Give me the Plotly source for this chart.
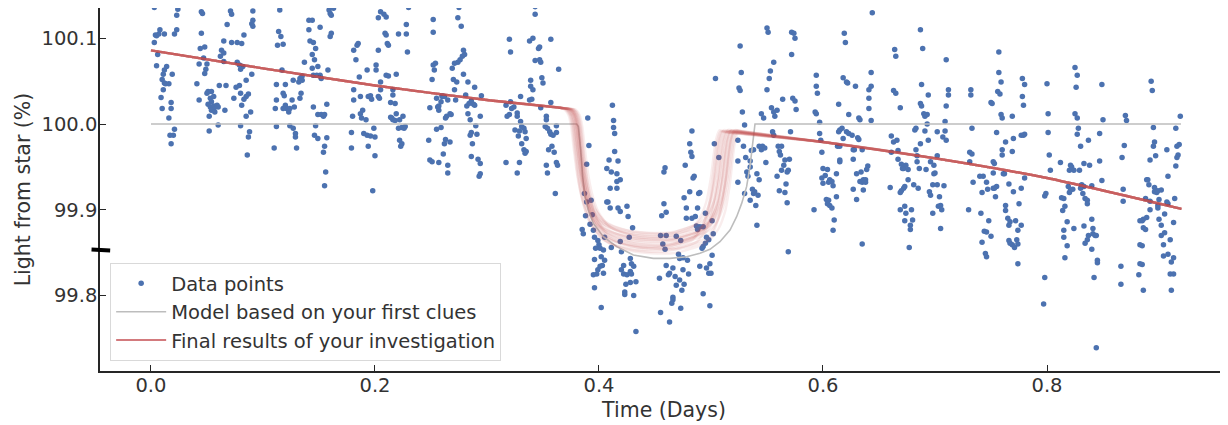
import numpy as np
import plotly.graph_objects as go

time_days = [
    # block 1
    0.003,0.004,0.005,0.007,0.003,0.008,0.012,0.021,0.023,0.023,0.024,0.006,0.005,0.014,0.012,0.011,0.019,0.010,0.012,0.016,0.013,0.011,0.009,0.018,0.010,0.018,0.016,0.021,0.017,0.020,0.018,
    # block 2
    0.045,0.046,0.045,0.048,0.044,0.047,0.050,0.043,0.049,0.048,0.041,0.051,0.054,0.050,0.043,0.053,0.056,0.054,0.051,0.053,0.056,0.059,0.056,0.060,0.054,0.057,0.052,0.060,0.052,
    # block 3
    0.071,0.072,0.068,0.091,0.091,0.090,0.091,0.083,0.065,0.072,0.077,0.081,0.063,0.065,0.062,0.065,0.077,0.079,0.082,0.080,0.090,0.085,0.061,0.067,0.079,0.076,0.080,0.087,0.085,0.083,0.074,0.081,0.089,0.066,0.085,0.080,0.088,0.087,0.086,
    # block 4
    0.115,0.114,0.116,0.113,0.118,0.117,0.112,0.120,0.118,0.119,0.112,0.120,0.121,0.118,0.123,0.111,0.112,0.110,
    # block 5
    0.124,0.124,0.126,0.128,0.127,0.129,0.129,0.130,0.127,0.133,0.135,0.135,0.134,0.133,0.137,0.132,0.141,0.144,0.141,0.142,0.145,0.144,0.147,0.146,0.144,0.145,
    0.149,0.151,0.152,0.148,0.158,0.151,0.160,0.161,0.159,0.163,0.160,0.161,0.145,0.149,0.152,0.154,0.155,0.157,0.147,0.146,0.149,0.157,0.155,0.154,0.156,0.155,
    # block 6
    0.181,0.184,0.185,0.183,0.181,0.186,0.187,0.181,0.189,0.187,0.188,0.180,0.192,0.194,0.196,0.197,0.193,0.179,0.190,0.193,0.196,0.200,0.199,0.194,0.179,0.200,0.198,0.201,0.201,0.203,0.203,
    # block 7
    0.205,0.208,0.210,0.203,0.209,0.210,0.211,0.212,0.205,0.205,0.204,0.210,0.212,0.216,0.219,0.216,0.214,0.218,0.221,0.228,0.228,0.229,0.230,0.219,0.215,0.216,0.214,0.218,0.222,0.225,0.221,0.224,0.227,0.226,0.222,0.224,0.223,
    # block 8
    0.252,0.252,0.251,0.252,0.254,0.253,0.255,0.256,0.257,0.257,0.259,0.260,0.260,0.262,0.263,0.264,0.265,0.267,0.268,0.249,0.248,0.249,0.251,0.255,0.259,0.257,0.261,0.262,0.263,0.267,0.265,0.265,0.269,0.271,0.274,
    0.270,0.273,0.271,0.272,0.276,0.278,0.280,0.279,0.279,0.283,0.289,0.281,0.282,0.284,0.286,0.288,0.289,0.285,0.290,0.283,0.286,0.285,0.291,0.287,0.286,0.292,0.294,0.294,0.293,0.295,0.294,0.275,0.274,0.277,
    # block 9
    0.320,0.321,0.317,0.318,0.320,0.321,0.324,0.322,0.327,0.330,0.327,0.330,0.325,0.329,0.328,0.334,0.335,0.333,0.331,0.333,0.334,0.335,0.317,0.329,0.327,0.331,0.338,0.341,0.346,0.347,0.343,0.347,
    0.348,0.339,0.339,0.341,0.338,0.340,0.349,0.350,0.348,0.343,0.343,0.353,0.353,0.352,0.354,0.356,0.357,0.359,0.362,0.362,0.358,0.360,0.355,0.362,0.363,0.353,0.354,0.361,0.357,0.357,0.364,
    # block 10 (transit)
    0.390,0.391,0.389,0.387,0.393,0.389,0.388,0.394,0.385,0.386,0.392,0.395,0.396,0.399,0.400,0.401,0.397,0.405,0.404,0.402,0.396,0.405,0.403,0.401,0.399,0.398,0.395,0.404,0.396,0.402,
    0.412,0.413,0.413,0.414,0.414,0.409,0.417,0.407,0.411,0.416,0.419,0.416,0.410,0.416,0.407,0.408,0.410,0.417,0.419,0.425,0.426,0.430,0.427,0.419,0.411,0.420,0.428,0.429,0.431,0.428,0.422,
    0.422,0.425,0.429,0.433,0.428,0.424,0.423,0.423,0.431,0.433,0.420,
    # block 11 (transit)
    0.459,0.458,0.458,0.460,0.456,0.455,0.460,0.457,0.459,0.469,0.473,0.454,0.460,0.463,0.462,0.466,0.471,0.472,0.468,0.472,0.469,0.474,0.466,0.466,0.465,0.455,0.463,0.473,0.475,0.479,0.475,
    0.480,0.476,0.483,0.481,0.482,0.483,0.477,0.485,0.484,0.481,0.476,0.478,0.478,0.483,0.486,0.488,0.489,0.487,0.488,0.490,
    # block 12
    0.490,0.495,0.493,0.492,0.493,0.495,0.496,0.498,0.490,0.496,0.498,0.500,0.493,0.499,0.501,0.502,0.501,0.499,0.503,0.507,0.504,
    # block 13
    0.526,0.527,0.525,0.526,0.528,0.524,0.529,0.530,0.524,0.531,0.532,0.535,0.535,0.533,0.524,0.536,0.538,0.537,0.530,0.538,0.539,0.535,0.540,0.541,0.543,0.542,0.541,0.543,0.545,0.546,0.547,0.545,0.548,0.550,0.549,
    0.551,0.550,0.553,0.552,0.556,0.554,0.556,0.559,0.555,0.556,0.557,0.560,0.563,0.561,0.562,0.566,0.565,0.569,0.568,0.563,0.559,0.567,0.561,0.566,0.568,0.570,0.569,0.564,0.573,0.575,0.576,0.572,0.572,0.574,0.575,0.571,
    # block 14
    0.594,0.594,0.595,0.593,0.594,0.597,0.597,0.598,0.599,0.600,0.604,0.599,0.602,0.606,0.605,0.608,0.600,0.609,0.612,0.603,0.605,0.604,0.606,0.608,0.592,0.610,0.609,0.612,0.613,0.615,0.618,0.617,0.615,0.614,0.621,
    0.623,0.619,0.620,0.618,0.621,0.622,0.614,0.615,0.615,0.623,
    # block 15
    0.626,0.627,0.627,0.628,0.629,0.630,0.632,0.633,0.631,0.632,0.635,0.634,0.633,0.635,0.636,0.638,0.638,0.636,0.639,0.640,0.627,0.630,0.635,0.641,0.641,0.641,0.643,0.643,0.643,0.644,
    # block 16
    0.664,0.665,0.663,0.665,0.669,0.661,0.663,0.666,0.661,0.667,0.667,0.670,0.672,0.674,0.676,0.671,0.676,0.673,0.672,0.670,0.669,0.660,0.669,0.673,0.674,0.679,0.673,0.680,0.678,0.678,0.677,0.681,0.685,0.683,0.684,0.684,0.686,0.687,0.683,
    0.682,0.688,0.687,0.689,0.687,0.688,0.690,0.691,0.693,0.693,0.691,0.694,0.694,0.692,0.696,0.699,0.699,0.700,0.698,0.695,0.696,0.702,0.704,0.703,0.705,0.706,0.698,0.705,0.702,0.708,0.702,0.707,0.709,0.710,0.709,0.710,0.712,0.712,0.710,
    # block 17
    0.730,0.732,0.732,0.733,0.731,0.733,0.731,0.734,0.740,0.743,0.746,0.742,0.747,0.741,0.748,0.746,0.744,0.742,0.745,0.746,0.750,0.750,0.752,0.753,0.752,0.752,0.755,0.753,0.754,0.755,0.751,0.757,0.757,0.759,0.756,0.758,0.759,
    0.760,0.760,0.760,0.761,0.762,0.763,0.763,0.763,0.765,0.766,0.767,0.766,0.767,0.769,0.769,0.769,0.766,0.770,0.770,0.772,0.774,0.773,0.771,0.774,0.775,0.777,0.774,0.777,0.777,0.779,0.780,0.778,0.778,0.779,0.780,0.780,
    # block 18
    0.800,0.801,0.801,0.802,0.803,0.799,0.798,0.812,0.813,0.815,0.814,0.816,0.818,0.815,0.815,0.818,0.816,0.798,0.797,0.819,0.820,0.821,0.822,0.820,0.821,0.823,0.824,0.825,0.827,0.826,0.825,0.827,0.828,0.827,
    0.829,0.830,0.831,0.833,0.830,0.832,0.833,0.834,0.836,0.836,0.824,0.833,0.836,0.834,0.837,0.838,0.837,0.840,0.840,0.841,0.841,0.843,0.844,0.840,0.845,0.845,0.842,0.844,0.847,0.847,0.849,0.850,0.849,
    # block 19
    0.867,0.869,0.868,0.868,0.866,0.866,0.870,0.871,
    # block 20
    0.893,0.894,0.895,0.896,0.895,0.897,0.892,0.889,0.890,0.891,0.896,0.896,0.898,0.899,0.902,0.888,0.892,0.900,0.899,0.899,0.892,0.907,0.908,0.905,0.900,0.902,0.889,0.886,0.885,0.883,
    0.886,0.888,0.902,0.905,0.910,0.904,0.883,0.885,0.904,0.908,0.913,0.911,0.883,0.885,0.882,0.910,0.913,0.886,0.911,0.907,0.908,0.919,0.915,0.916,0.918,0.917,0.916,0.915,0.914,0.913,
]

light_pct = [
    # block 1
    100.136,100.104,100.103,100.105,100.095,100.110,100.105,100.105,100.110,100.127,100.134,100.081,100.068,100.067,100.063,100.058,100.058,100.052,100.048,100.047,100.047,100.040,100.031,100.025,100.018,100.018,100.007,99.994,99.987,99.987,99.977,
    # block 2
    100.131,100.129,100.106,100.090,100.088,100.077,100.070,100.070,100.064,100.059,100.047,100.038,100.038,100.036,100.028,100.030,100.032,100.026,100.023,100.020,100.021,100.022,100.017,100.020,100.016,100.014,100.009,99.999,99.992,
    # block 3
    100.132,100.128,100.116,100.132,100.121,100.117,100.114,100.104,100.097,100.095,100.095,100.094,100.086,100.083,100.079,100.073,100.072,100.069,100.067,100.064,100.058,100.051,100.045,100.045,100.045,100.043,100.036,100.035,100.032,100.029,100.030,100.022,100.014,100.016,100.009,99.998,99.991,99.985,99.964,
    # block 4
    100.133,100.108,100.102,100.092,100.093,100.063,100.046,100.046,100.036,100.033,100.028,100.022,100.018,100.018,100.014,100.018,99.997,99.972,
    # block 5
    99.998,100.018,100.028,100.020,99.995,99.989,99.985,99.972,100.051,100.053,100.056,100.051,100.036,100.030,100.072,100.049,100.121,100.121,100.110,100.097,100.095,100.081,100.088,100.075,100.065,100.057,
    100.067,100.057,100.053,100.057,100.063,100.113,100.129,100.127,100.133,100.135,100.102,100.106,100.020,100.011,100.011,100.009,100.011,100.023,99.998,99.987,99.983,99.984,99.974,99.967,99.944,99.928,
    # block 6
    100.086,100.092,100.094,100.075,100.040,100.055,100.032,100.028,100.016,100.012,100.007,100.009,100.005,100.032,100.033,100.029,100.063,99.990,99.989,99.987,99.986,99.985,99.995,99.974,99.972,99.963,99.922,100.069,100.063,100.032,100.086,
    # block 7
    100.131,100.128,100.125,100.124,100.106,100.104,100.094,100.092,100.049,100.040,100.030,100.057,100.056,100.040,100.058,100.034,100.025,100.024,100.105,100.116,100.105,100.084,100.136,100.012,100.007,100.005,100.008,100.004,100.005,100.009,99.995,99.996,99.997,99.995,99.981,99.977,99.974,
    # block 8
    100.122,100.107,100.052,100.069,100.071,100.063,100.030,100.020,100.016,100.021,100.026,100.032,100.033,100.032,100.007,100.009,100.028,100.012,100.011,100.019,99.981,99.958,99.956,99.994,99.996,99.955,99.965,99.977,99.982,99.979,99.952,99.943,100.065,100.071,100.072,
    100.052,100.049,100.040,100.028,100.075,100.079,100.081,100.086,100.058,100.049,100.043,100.034,100.021,100.024,100.027,100.023,100.022,100.005,99.998,100.012,99.990,99.987,99.988,99.977,99.962,99.959,99.954,99.942,99.939,100.033,100.009,100.136,100.124,100.114,
    # block 9
    100.099,100.084,100.022,100.009,100.011,100.026,100.020,100.018,100.013,100.032,100.009,100.003,99.993,99.992,99.986,99.991,99.983,99.995,99.977,99.970,99.966,99.968,99.955,99.955,99.943,99.997,100.097,100.100,100.088,100.090,100.074,100.075,
    100.072,100.051,100.044,100.040,100.028,100.029,100.054,100.048,100.019,100.137,100.128,100.009,100.005,99.997,99.995,99.991,99.988,99.987,99.998,99.990,99.974,99.967,99.970,99.955,99.952,99.952,99.943,99.919,100.025,100.099,100.064,
    # block 10 (transit)
    100.007,99.975,99.953,99.919,99.911,99.909,99.893,99.894,99.877,99.872,99.883,99.876,99.868,99.864,99.859,99.855,99.855,99.868,99.853,99.845,99.842,99.841,99.835,99.834,99.830,99.825,99.824,99.826,99.809,99.786,
    100.022,100.004,99.996,99.989,99.968,99.958,99.957,99.948,99.944,99.942,99.935,99.933,99.925,99.925,99.909,99.909,99.902,99.902,99.898,99.904,99.892,99.879,99.868,99.863,99.856,99.851,99.843,99.837,99.834,99.828,99.835,
    99.825,99.824,99.825,99.816,99.815,99.813,99.804,99.801,99.800,99.758,99.830,
    # block 11 (transit)
    99.949,99.944,99.907,99.897,99.893,99.870,99.870,99.860,99.854,99.869,99.864,99.820,99.835,99.826,99.824,99.832,99.848,99.843,99.822,99.818,99.812,99.806,99.798,99.795,99.791,99.780,99.769,99.785,99.844,99.841,99.830,
    99.825,99.813,99.992,99.977,99.967,99.962,99.952,99.939,99.937,99.921,99.914,99.902,99.890,99.890,99.892,99.902,99.919,99.881,99.877,99.880,
    # block 12
    99.920,99.896,99.880,99.855,99.857,99.861,99.868,99.865,99.834,99.832,99.826,99.826,99.802,99.788,99.887,99.872,99.847,99.837,99.977,99.961,100.053,
    # block 13
    100.091,100.060,100.042,100.039,100.014,99.981,99.974,99.999,99.957,99.961,99.944,99.957,99.950,99.939,99.932,99.969,99.970,99.924,99.919,99.919,99.921,99.911,99.905,99.942,99.935,99.917,99.882,99.974,99.970,99.974,100.007,100.012,99.972,100.040,99.955,
    100.107,100.112,100.062,100.053,100.072,100.019,100.014,100.016,99.991,99.987,100.009,99.974,99.974,99.968,99.964,99.958,99.952,99.946,99.944,99.946,99.939,99.930,99.922,99.920,99.908,99.959,99.851,100.029,100.030,100.027,100.017,100.081,100.107,100.106,100.100,99.991,
    # block 14
    100.057,100.044,100.036,100.014,100.012,100.002,99.989,99.981,99.967,99.948,99.947,99.937,99.940,99.935,99.932,99.933,99.931,99.928,99.915,99.912,99.911,99.907,99.905,99.902,99.900,99.888,99.876,99.942,99.974,99.974,99.983,99.995,99.993,99.991,99.991,
    99.989,100.106,100.095,100.054,100.049,100.048,100.023,99.958,99.956,100.011,
    # block 15
    99.987,99.970,99.959,99.970,100.044,99.942,100.007,100.005,99.984,99.982,99.970,99.944,99.933,99.932,99.935,99.935,99.932,99.923,99.947,99.951,99.924,99.912,99.860,100.018,100.030,100.040,100.044,100.060,100.004,100.130,
    # block 16
    100.087,100.079,100.039,100.036,100.019,99.986,99.979,99.981,99.967,99.969,99.959,99.953,99.948,99.952,99.947,99.948,99.935,99.927,99.925,99.922,99.920,99.926,99.900,99.904,99.896,99.900,99.887,99.888,99.882,99.877,99.856,99.929,99.925,99.970,99.963,99.956,99.948,99.977,99.995,
    99.993,100.046,100.110,100.088,100.024,100.021,100.012,100.009,100.011,100.000,99.992,99.981,100.034,99.947,99.956,99.952,99.942,99.943,99.929,99.921,99.917,99.963,99.915,99.904,99.905,99.900,99.896,99.878,99.929,99.928,99.991,99.985,99.992,99.981,100.003,100.021,100.040,100.034,100.075,
    # block 17
    99.900,100.040,100.034,99.995,99.967,99.965,99.956,99.932,99.939,99.939,99.932,99.920,99.924,99.896,99.887,99.874,99.875,99.862,99.849,99.845,100.025,99.869,99.943,99.954,99.956,99.925,99.927,99.925,99.915,99.990,100.024,100.084,100.060,100.049,100.038,100.035,100.011,
    100.007,99.970,99.964,99.942,99.942,99.979,99.905,99.899,99.890,99.882,99.886,99.864,99.861,99.859,100.009,99.968,99.930,99.921,99.983,99.887,99.876,99.865,99.856,99.860,99.907,99.882,99.837,99.925,99.987,99.987,99.988,100.032,100.053,100.022,100.046,99.937,
    # block 18
    100.047,100.012,99.990,99.964,99.946,99.919,99.916,99.955,99.914,99.913,99.899,99.904,99.886,99.876,99.868,99.858,99.844,99.821,99.790,99.927,99.946,99.952,99.950,99.920,99.923,99.924,99.946,100.066,100.057,100.043,100.012,100.007,99.995,99.988,
    99.946,99.974,99.929,99.954,99.925,99.919,99.927,99.913,99.911,99.907,99.878,99.881,99.865,99.861,99.870,99.952,99.981,99.928,99.889,99.878,99.872,99.870,99.870,99.854,99.841,99.838,99.821,99.739,99.957,99.989,100.046,100.005,99.934,
    # block 19
    99.961,99.975,99.924,99.910,99.834,99.813,100.010,100.004,
    # block 20
    100.050,100.039,99.996,99.979,99.974,99.963,99.958,99.935,99.935,99.929,99.926,99.921,99.920,99.922,99.923,99.913,99.910,99.912,99.905,99.902,99.900,99.909,99.907,99.895,99.889,99.882,99.891,99.889,99.887,99.887,
    99.879,99.877,99.870,99.873,99.865,99.859,99.859,99.858,99.846,99.848,99.844,99.839,99.837,99.836,99.824,99.825,99.825,99.806,99.806,99.970,99.939,100.009,99.995,99.974,99.976,99.964,99.961,99.951,99.913,99.885,
]

# ---------------- model based on first clues (grey) ----------------
first_model_t = [0.0, 0.3801, 0.3816, 0.3837, 0.3854, 0.3875, 0.3905, 0.3949, 0.4039, 0.4158, 0.4307, 0.4485,
                 0.4634, 0.4783, 0.4902, 0.4991, 0.5080, 0.5170, 0.5229, 0.5274, 0.5318, 0.5348, 0.5369,
                 0.5384, 0.5393, 0.9196]
first_model_light = [100.0, 100.0, 99.997, 99.970, 99.9385, 99.915, 99.8997, 99.8841, 99.8686, 99.8569, 99.8471,
                     99.8432, 99.8432, 99.8452, 99.8491, 99.8538, 99.8627, 99.8763, 99.8919, 99.9074, 99.9269,
                     99.9502, 99.9736, 99.9891, 100.0, 100.0]

# ---------------- final fitted model (red, central curve) ----------------
final_model_t = [0.0, 0.1, 0.2, 0.3, 0.3652, 0.3741, 0.3777, 0.3801, 0.3824, 0.3854, 0.3896, 0.3949, 0.4039,
                 0.4158, 0.4307, 0.4485, 0.4634, 0.4783, 0.4902, 0.4976, 0.5036, 0.5080, 0.5104, 0.5125,
                 0.5155, 0.5199, 0.6, 0.7, 0.8, 0.92]
final_model_light = [100.086, 100.065, 100.045, 100.028, 100.019, 100.017, 100.0105, 99.997, 99.970, 99.9385,
                     99.911, 99.892, 99.876, 99.868, 99.863, 99.861, 99.8615, 99.8666, 99.8724, 99.884, 99.9035,
                     99.935, 99.962, 99.981, 99.992, 99.991, 99.979, 99.960, 99.937, 99.901]

# spread of the posterior sample curves seen in the band (days / %)
sample_shift_ingress = [-0.005, -0.004, -0.003, -0.003, -0.002, -0.002, -0.001, -0.001, 0.0, 0.0,
                        0.0, 0.001, 0.001, 0.002, 0.002, 0.003, 0.003, 0.004, 0.005, 0.001]
sample_shift_egress = [-0.008, -0.006, -0.004, -0.007, -0.002, 0.0, -0.003, 0.002, -0.001, 0.003,
                       0.005, 0.001, 0.006, 0.004, 0.008, 0.002, 0.007, 0.009, 0.005, -0.005]
sample_depth_offset = [0.006, -0.004, 0.010, -0.008, 0.002, 0.012, -0.010, 0.004, -0.002, 0.008,
                       -0.006, 0.0, 0.011, -0.012, 0.003, -0.003, 0.007, -0.007, 0.005, -0.005]

x_ticks = [0.0, 0.2, 0.4, 0.6, 0.8]
y_ticks = [99.8, 99.9, 100.0, 100.1]

assert len(time_days) == len(light_pct), (len(time_days), len(light_pct))

BLUE = "#4c72b0"
GREY = "#bdbdbd"
RED = "#c44e52"
TEXT = "#333333"
FONT = "DejaVu Sans"

fig = go.Figure()

fig.add_trace(go.Scatter(
    x=time_days, y=light_pct, mode="markers", name="Data points",
    marker=dict(color=BLUE, size=5.5, line=dict(width=0)),
    legendgroup="a",
))

fig.add_trace(go.Scatter(
    x=first_model_t, y=first_model_light, mode="lines",
    name="Model based on your first clues",
    line=dict(color=GREY, width=1.6), legendgroup="b",
))

rt = np.array(final_model_t)
rf = np.array(final_model_light)
in_win = (rt > 0.37) & (rt < 0.525)
first_half = rt < 0.447
weight = np.where(in_win, np.clip((100.005 - rf) / 0.13, 0, 1), 0.0)
for dti, dte, dd in zip(sample_shift_ingress, sample_shift_egress, sample_depth_offset):
    ts = rt + np.where(in_win & first_half, dti, 0.0) + np.where(in_win & ~first_half, dte, 0.0)
    fs = rf + dd * weight
    fig.add_trace(go.Scatter(
        x=ts, y=fs, mode="lines", showlegend=False, hoverinfo="skip",
        line=dict(color="rgba(196,78,82,0.10)", width=2.4, shape="spline", smoothing=0.6),
    ))

fig.add_trace(go.Scatter(
    x=[None], y=[None], mode="lines", name="Final results of your investigation",
    line=dict(color=RED, width=1.6), legendgroup="c",
))

# small black mark on the y axis
fig.add_shape(type="line", xref="paper", yref="y",
              x0=-0.0075, x1=0.009, y0=99.8535, y1=99.8525,
              line=dict(color="black", width=4))

axis_common = dict(
    showgrid=False, zeroline=False, showline=True, linecolor="#262626", linewidth=1.5,
    ticks="inside", ticklen=6, tickwidth=1.2, tickcolor="#262626",
    tickfont=dict(family=FONT, size=19.5, color=TEXT),
    tickformat=".1f", automargin=False,
)

# the page body adds an 8px offset, so the figure is drawn 8px smaller
fig.update_layout(
    width=1220, height=417,
    margin=dict(l=92, r=0, t=0, b=54),
    plot_bgcolor="white", paper_bgcolor="white",
    font=dict(family=FONT, color=TEXT, size=19),
    xaxis=dict(range=[-0.0455, 0.9616], tickvals=x_ticks, ticklabelstandoff=-4,
               title=dict(text="Time (Days)", font=dict(family=FONT, size=20.5, color=TEXT), standoff=6),
               **axis_common),
    yaxis=dict(range=[99.7118, 100.1354], tickvals=y_ticks, ticklabelstandoff=-3,
               title=dict(text="Light from star (%)", font=dict(family=FONT, size=20.5, color=TEXT), standoff=5),
               **axis_common),
    legend=dict(x=0.009, y=0.027, xanchor="left", yanchor="bottom",
                bgcolor="rgba(255,255,255,0.85)", bordercolor="#d9d9d9", borderwidth=1,
                font=dict(family=FONT, size=19.5, color=TEXT), tracegroupgap=0,
                itemwidth=50),
    showlegend=True,
)

fig.write_html("out.html")
